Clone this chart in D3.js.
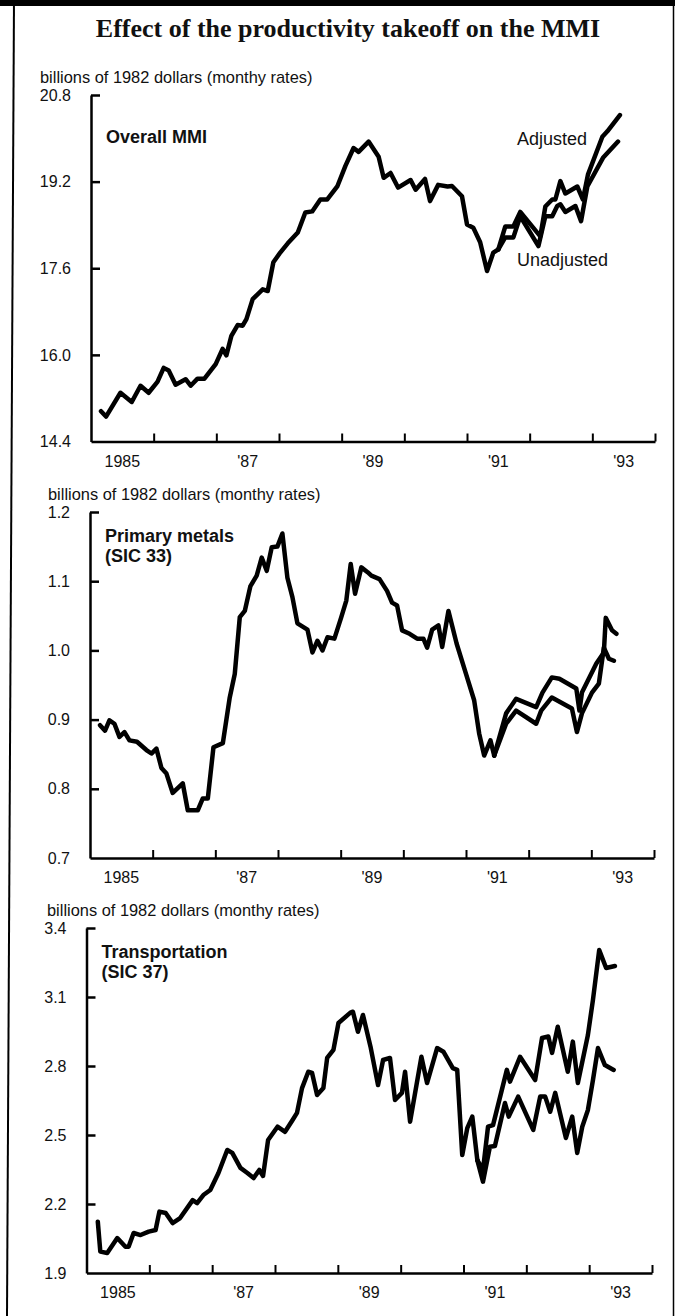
<!DOCTYPE html>
<html>
<head>
<meta charset="utf-8">
<script src="https://cdn.jsdelivr.net/npm/d3@7"></script>
<style>
  body { margin: 0; background: #fff; }
  text { font-family: "Liberation Sans", Arial, sans-serif; fill: #111; }
</style>
</head>
<body>
<script>
/* ------------------------------- Data ------------------------------- */
// x axis: year boundaries as ticks, labels on the middle of odd years
const yearTicks = [1986, 1987, 1988, 1989, 1990, 1991, 1992, 1993, 1994];
const yearLabels = ["1985", "'87", "'89", "'91", "'93"];
const labelYears = [1985.5, 1987.5, 1989.5, 1991.5, 1993.5];

// Overall MMI (billions of 1982 dollars), [decimal year, value]
const mmiTicks = [14.4, 16.0, 17.6, 19.2, 20.8];
const mmiCommon = [
  [1985.16, 14.96], [1985.24, 14.86], [1985.47, 15.30], [1985.65, 15.13], [1985.79, 15.43],
  [1985.92, 15.30], [1986.06, 15.50], [1986.16, 15.76], [1986.24, 15.71], [1986.35, 15.45],
  [1986.51, 15.55], [1986.59, 15.43], [1986.70, 15.56], [1986.81, 15.56], [1986.99, 15.83],
  [1987.10, 16.11], [1987.16, 15.99], [1987.24, 16.35], [1987.34, 16.55], [1987.42, 16.54],
  [1987.48, 16.66], [1987.58, 17.03], [1987.74, 17.21], [1987.82, 17.18], [1987.91, 17.71],
  [1988.02, 17.89], [1988.14, 18.06], [1988.30, 18.26], [1988.42, 18.63], [1988.53, 18.65],
  [1988.66, 18.87], [1988.77, 18.87], [1988.93, 19.11], [1989.06, 19.49], [1989.19, 19.82],
  [1989.27, 19.75], [1989.43, 19.94], [1989.59, 19.66], [1989.67, 19.27], [1989.78, 19.36],
  [1989.90, 19.09], [1990.10, 19.23], [1990.18, 19.05], [1990.33, 19.25], [1990.41, 18.84],
  [1990.54, 19.14], [1990.69, 19.11], [1990.76, 19.12], [1990.92, 18.93], [1991.00, 18.41],
  [1991.10, 18.35], [1991.21, 18.08], [1991.32, 17.55], [1991.42, 17.89], [1991.50, 17.95]
];
const mmiAdjusted = [
  [1991.61, 18.37], [1991.74, 18.37], [1991.85, 18.64], [1992.17, 18.19], [1992.25, 18.74],
  [1992.36, 18.87], [1992.41, 18.87], [1992.49, 19.21], [1992.57, 18.98], [1992.76, 19.11],
  [1992.85, 18.87], [1992.93, 19.33], [1993.16, 20.03], [1993.24, 20.13], [1993.44, 20.43]
];
const mmiUnadjusted = [
  [1991.61, 18.17], [1991.74, 18.17], [1991.85, 18.56], [1992.14, 18.01], [1992.25, 18.56],
  [1992.36, 18.56], [1992.44, 18.75], [1992.49, 18.78], [1992.57, 18.64], [1992.73, 18.75],
  [1992.82, 18.47], [1992.92, 19.11], [1993.17, 19.64], [1993.41, 19.94]
];

// Primary metals (SIC 33)
const metalsTicks = [0.7, 0.8, 0.9, 1.0, 1.1, 1.2];
const metalsCommon = [
  [1985.16, 0.892], [1985.24, 0.884], [1985.31, 0.899], [1985.39, 0.894], [1985.47, 0.875],
  [1985.55, 0.882], [1985.63, 0.870], [1985.75, 0.868], [1985.90, 0.856], [1985.98, 0.851],
  [1986.06, 0.858], [1986.14, 0.830], [1986.22, 0.822], [1986.32, 0.794], [1986.48, 0.808],
  [1986.56, 0.769], [1986.72, 0.769], [1986.80, 0.786], [1986.88, 0.786], [1986.97, 0.860],
  [1987.12, 0.866], [1987.23, 0.932], [1987.31, 0.966], [1987.39, 1.048], [1987.47, 1.057],
  [1987.56, 1.093], [1987.66, 1.108], [1987.74, 1.134], [1987.82, 1.115], [1987.90, 1.149],
  [1987.99, 1.150], [1988.07, 1.169], [1988.15, 1.105], [1988.23, 1.077], [1988.31, 1.039],
  [1988.47, 1.030], [1988.55, 0.997], [1988.63, 1.014], [1988.71, 1.000], [1988.79, 1.019],
  [1988.90, 1.017], [1989.01, 1.048], [1989.09, 1.072], [1989.16, 1.125], [1989.23, 1.082],
  [1989.33, 1.120], [1989.43, 1.113], [1989.49, 1.108], [1989.62, 1.103], [1989.74, 1.086],
  [1989.82, 1.069], [1989.90, 1.065], [1989.98, 1.029], [1990.10, 1.024], [1990.22, 1.017],
  [1990.32, 1.017], [1990.38, 1.004], [1990.46, 1.030], [1990.56, 1.036], [1990.62, 1.005],
  [1990.72, 1.057], [1990.85, 1.010], [1991.00, 0.966], [1991.13, 0.928], [1991.21, 0.880],
  [1991.29, 0.848], [1991.39, 0.870], [1991.45, 0.848]
];
const metalsAdjusted = [
  [1991.64, 0.909], [1991.80, 0.930], [1992.12, 0.918], [1992.22, 0.939], [1992.37, 0.961],
  [1992.49, 0.959], [1992.76, 0.945], [1992.81, 0.913], [1992.85, 0.939], [1993.08, 0.981],
  [1993.20, 0.997], [1993.23, 1.047], [1993.33, 1.029], [1993.40, 1.024]
];
const metalsUnadjusted = [
  [1991.64, 0.894], [1991.80, 0.913], [1992.12, 0.894], [1992.20, 0.913], [1992.37, 0.932],
  [1992.69, 0.916], [1992.77, 0.882], [1992.85, 0.909], [1993.01, 0.939], [1993.12, 0.952],
  [1993.20, 1.004], [1993.28, 0.988], [1993.36, 0.985]
];

// Transportation (SIC 37)
const transTicks = [1.9, 2.2, 2.5, 2.8, 3.1, 3.4];
const transCommon = [
  [1985.18, 2.123], [1985.22, 1.993], [1985.33, 1.987], [1985.49, 2.052], [1985.62, 2.014],
  [1985.67, 2.014], [1985.75, 2.074], [1985.86, 2.065], [1985.99, 2.080], [1986.10, 2.087],
  [1986.16, 2.167], [1986.26, 2.161], [1986.37, 2.117], [1986.49, 2.139], [1986.69, 2.217],
  [1986.76, 2.204], [1986.86, 2.239], [1986.97, 2.261], [1987.10, 2.335], [1987.24, 2.435],
  [1987.32, 2.422], [1987.45, 2.357], [1987.56, 2.335], [1987.66, 2.313], [1987.75, 2.348],
  [1987.81, 2.322], [1987.89, 2.478], [1988.04, 2.536], [1988.16, 2.514], [1988.28, 2.565],
  [1988.35, 2.596], [1988.43, 2.704], [1988.53, 2.775], [1988.59, 2.770], [1988.67, 2.674],
  [1988.77, 2.704], [1988.83, 2.835], [1988.93, 2.870], [1989.01, 2.987], [1989.20, 3.032],
  [1989.24, 3.036], [1989.32, 2.949], [1989.40, 3.022], [1989.52, 2.884], [1989.64, 2.717],
  [1989.72, 2.826], [1989.83, 2.835], [1989.91, 2.652], [1990.02, 2.683], [1990.07, 2.775],
  [1990.15, 2.558], [1990.33, 2.840], [1990.42, 2.726], [1990.58, 2.878], [1990.68, 2.862],
  [1990.83, 2.791], [1990.90, 2.783], [1990.98, 2.413], [1991.06, 2.530], [1991.14, 2.580],
  [1991.22, 2.391]
];
const transAdjusted = [
  [1991.31, 2.348], [1991.39, 2.536], [1991.47, 2.543], [1991.69, 2.783], [1991.74, 2.732],
  [1991.90, 2.840], [1992.14, 2.739], [1992.25, 2.922], [1992.35, 2.928], [1992.41, 2.857],
  [1992.50, 2.971], [1992.66, 2.775], [1992.74, 2.906], [1992.82, 2.726], [1992.98, 2.935],
  [1993.06, 3.087], [1993.16, 3.304], [1993.27, 3.226], [1993.41, 3.235]
];
const transUnadjusted = [
  [1991.31, 2.297], [1991.42, 2.449], [1991.50, 2.452], [1991.66, 2.639], [1991.72, 2.580],
  [1991.87, 2.667], [1992.11, 2.522], [1992.22, 2.667], [1992.30, 2.667], [1992.38, 2.601],
  [1992.46, 2.683], [1992.63, 2.487], [1992.73, 2.580], [1992.81, 2.422], [1992.89, 2.536],
  [1992.98, 2.609], [1993.06, 2.739], [1993.14, 2.878], [1993.25, 2.804], [1993.39, 2.783]
];

/* ------------------------------ Layout ------------------------------ */
const width = 675;
const height = 1316;
const unitsLabel = "billions of 1982 dollars (monthy rates)";

const panels = [
  { title: ["Overall MMI"], titleY: 143, unitsX: 40, ticks: mmiTicks,
    common: mmiCommon, adjusted: mmiAdjusted, unadjusted: mmiUnadjusted,
    left: 91, right: 655, top: 95, bottom: 441.5 },
  { title: ["Primary metals", "(SIC 33)"], titleY: 542, unitsX: 48, ticks: metalsTicks,
    common: metalsCommon, adjusted: metalsAdjusted, unadjusted: metalsUnadjusted,
    left: 90, right: 654, top: 512, bottom: 858 },
  { title: ["Transportation", "(SIC 37)"], titleY: 958, unitsX: 47, ticks: transTicks,
    common: transCommon, adjusted: transAdjusted, unadjusted: transUnadjusted,
    left: 86.5, right: 652, top: 928, bottom: 1273 }
];

const svg = d3.select("body").append("svg")
  .attr("width", width)
  .attr("height", height);

/* ---------------------------- Frame + title --------------------------- */
svg.append("rect").attr("x", 0).attr("y", 0).attr("width", width).attr("height", 6).attr("fill", "#000");
svg.append("line").attr("x1", 14).attr("y1", 0).attr("x2", 7).attr("y2", height)
  .attr("stroke", "#000").attr("stroke-width", 2);
svg.append("line").attr("x1", 673.5).attr("y1", 0).attr("x2", 673.5).attr("y2", height)
  .attr("stroke", "#000").attr("stroke-width", 1.5);

svg.append("text")
  .attr("x", 348).attr("y", 37)
  .attr("text-anchor", "middle")
  .style("font-family", "'Liberation Serif', 'Times New Roman', serif")
  .style("font-weight", "bold")
  .style("font-size", "26px")
  .text("Effect of the productivity takeoff on the MMI");

/* ------------------------------ Panels ------------------------------ */
panels.forEach((p, i) => {
  const x = d3.scaleLinear().domain([1985, 1994]).range([p.left, p.right]);
  const y = d3.scaleLinear().domain([p.ticks[0], p.ticks[p.ticks.length - 1]]).range([p.bottom, p.top]);
  const g = svg.append("g").attr("class", "panel-" + i);

  // units note
  g.append("text")
    .attr("x", p.unitsX).attr("y", p.top - 12)
    .style("font-size", "16.4px")
    .text(unitsLabel);

  // y axis: ticks point inward, labels on the left
  const yAxis = g.append("g")
    .attr("transform", `translate(${p.left},0)`)
    .call(d3.axisLeft(y).tickValues(p.ticks).tickSize(-9).tickSizeOuter(0)
      .tickPadding(20).tickFormat(d3.format(".1f")));
  yAxis.select(".domain").attr("stroke", "#000").attr("stroke-width", 2.5);
  yAxis.selectAll(".tick line").attr("stroke", "#000").attr("stroke-width", 2.5);
  yAxis.selectAll(".tick text")
    .style("font-size", "16px")
    .style("font-family", "'Liberation Sans', Arial, sans-serif")
    .attr("fill", "#111");
  yAxis.selectAll(".tick").filter(d => d === p.ticks[0]).select("line").remove();

  // x axis: year boundary ticks pointing up
  const xAxis = g.append("g")
    .attr("transform", `translate(0,${p.bottom})`)
    .call(d3.axisBottom(x).tickValues(yearTicks).tickSize(-8).tickSizeOuter(0).tickFormat(""));
  xAxis.select(".domain").attr("stroke", "#000").attr("stroke-width", 2.5);
  xAxis.selectAll(".tick line").attr("stroke", "#000").attr("stroke-width", 2);

  g.selectAll(".year-label")
    .data(labelYears)
    .enter().append("text")
    .attr("class", "year-label")
    .attr("x", d => x(d))
    .attr("y", p.bottom + 25)
    .attr("text-anchor", "middle")
    .style("font-size", "16px")
    .text((d, k) => yearLabels[k]);

  // panel name
  p.title.forEach((t, k) => {
    g.append("text")
      .attr("x", p.left + 15).attr("y", p.titleY + k * 20)
      .style("font-size", "18px")
      .style("font-weight", "bold")
      .text(t);
  });

  // lines
  const line = d3.line().x(d => x(d[0])).y(d => y(d[1]));
  const last = p.common[p.common.length - 1];
  [p.common, [last, ...p.unadjusted], [last, ...p.adjusted]].forEach(series => {
    g.append("path")
      .datum(series)
      .attr("fill", "none")
      .attr("stroke", "#000")
      .attr("stroke-width", 4.5)
      .attr("stroke-linejoin", "round")
      .attr("stroke-linecap", "round")
      .attr("d", line);
  });

  if (i === 0) {
    g.append("text").attr("x", 517).attr("y", 145).style("font-size", "18px").text("Adjusted");
    g.append("text").attr("x", 517).attr("y", 266).style("font-size", "18px").text("Unadjusted");
  }
});
</script>
</body>
</html>
